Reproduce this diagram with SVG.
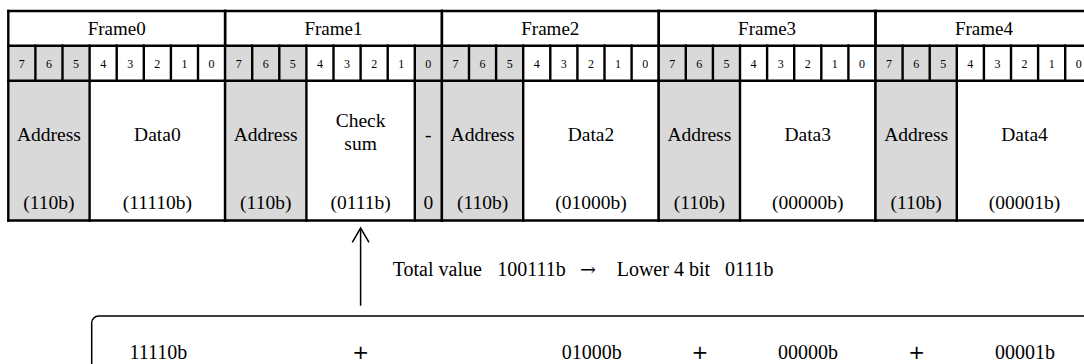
<svg xmlns="http://www.w3.org/2000/svg" width="1084" height="364" viewBox="0 0 1084 364">
<style>
  text { font-family: "Liberation Serif", "Times New Roman", serif; fill: #000; }
  .hdr { font-size: 19px; text-anchor: middle; }
  .bit { font-size: 12px; text-anchor: middle; }
  .lbl { font-size: 19.5px; text-anchor: middle; }
  .note { font-size: 20px; }
  .arr { font-family: "DejaVu Serif", serif; font-size: 19px; }
  .sum { font-size: 20px; text-anchor: middle; }
  .plus { font-family: "DejaVu Sans", sans-serif; font-size: 20px; text-anchor: middle; }
  .gray { fill: #d9d9d9; stroke: none; }
  .ln { stroke: #000; stroke-width: 2.4; fill: none; stroke-linecap: square; }
  .thin { stroke: #000; stroke-width: 1.5; fill: none; }
</style>
<defs>
  <g id="bitlines">
    <path class="ln" d="M0,11 V220.5 M27.1,45.7 V80.7 M54.2,45.7 V80.7 M81.3,45.7 V220.5 M108.4,45.7 V80.7 M135.5,45.7 V80.7 M162.6,45.7 V80.7 M189.7,45.7 V80.7 M216.8,11 V220.5"/>
  </g>
  <g id="bitnums">
    <text class="bit" x="13.55" y="68">7</text>
    <text class="bit" x="40.65" y="68">6</text>
    <text class="bit" x="67.75" y="68">5</text>
    <text class="bit" x="94.85" y="68">4</text>
    <text class="bit" x="121.95" y="68">3</text>
    <text class="bit" x="149.05" y="68">2</text>
    <text class="bit" x="176.15" y="68">1</text>
    <text class="bit" x="203.25" y="68">0</text>
  </g>
</defs>
<rect width="1084" height="364" fill="#fff"/>

<g id="frame0" transform="translate(8.3,0)">
  <rect class="gray" x="0" y="45.7" width="81.3" height="174.8"/>
  <use href="#bitlines"/>
  <text class="hdr" x="108.4" y="35">Frame0</text>
  <use href="#bitnums"/>
  <text class="lbl" x="40.65" y="141">Address</text>
  <text class="lbl" x="40.65" y="209">(110b)</text>
  <text class="lbl" x="149.05" y="141">Data0</text>
  <text class="lbl" x="149.05" y="209">(11110b)</text>
</g>

<g id="frame1" transform="translate(225.1,0)">
  <rect class="gray" x="0" y="45.7" width="81.3" height="174.8"/>
  <rect class="gray" x="189.7" y="45.7" width="27.1" height="174.8"/>
  <use href="#bitlines"/>
  <path class="ln" d="M189.7,80.7 V220.5"/>
  <text class="hdr" x="108.4" y="35">Frame1</text>
  <use href="#bitnums"/>
  <text class="lbl" x="40.65" y="141">Address</text>
  <text class="lbl" x="40.65" y="209">(110b)</text>
  <text class="lbl" x="135.5" y="127">Check</text>
  <text class="lbl" x="135.5" y="150">sum</text>
  <text class="lbl" x="135.5" y="209">(0111b)</text>
  <text class="lbl" x="203.25" y="141">-</text>
  <text class="lbl" x="203.25" y="209">0</text>
</g>

<g id="frame2" transform="translate(441.9,0)">
  <rect class="gray" x="0" y="45.7" width="81.3" height="174.8"/>
  <use href="#bitlines"/>
  <text class="hdr" x="108.4" y="35">Frame2</text>
  <use href="#bitnums"/>
  <text class="lbl" x="40.65" y="141">Address</text>
  <text class="lbl" x="40.65" y="209">(110b)</text>
  <text class="lbl" x="149.05" y="141">Data2</text>
  <text class="lbl" x="149.05" y="209">(01000b)</text>
</g>

<g id="frame3" transform="translate(658.7,0)">
  <rect class="gray" x="0" y="45.7" width="81.3" height="174.8"/>
  <use href="#bitlines"/>
  <text class="hdr" x="108.4" y="35">Frame3</text>
  <use href="#bitnums"/>
  <text class="lbl" x="40.65" y="141">Address</text>
  <text class="lbl" x="40.65" y="209">(110b)</text>
  <text class="lbl" x="149.05" y="141">Data3</text>
  <text class="lbl" x="149.05" y="209">(00000b)</text>
</g>

<g id="frame4" transform="translate(875.5,0)">
  <rect class="gray" x="0" y="45.7" width="81.3" height="174.8"/>
  <use href="#bitlines"/>
  <text class="hdr" x="108.4" y="35">Frame4</text>
  <use href="#bitnums"/>
  <text class="lbl" x="40.65" y="141">Address</text>
  <text class="lbl" x="40.65" y="209">(110b)</text>
  <text class="lbl" x="149.05" y="141">Data4</text>
  <text class="lbl" x="149.05" y="209">(00001b)</text>
</g>

<g id="table-rows">
  <path class="ln" d="M8.3,11 H1092.3 M8.3,45.7 H1092.3 M8.3,80.7 H1092.3 M8.3,220.5 H1092.3"/>
</g>

<g id="connectors">
  <path class="thin" d="M360.6,229 V305.7"/>
  <path class="thin" d="M352.3,242.3 L360.6,228 L369,242.3"/>
</g>

<g id="note">
  <text class="note" y="276"><tspan x="392.7">Total value</tspan><tspan x="497.3">100111b</tspan><tspan class="arr" x="580">→</tspan><tspan x="616.7">Lower 4 bit</tspan><tspan x="725">0111b</tspan></text>
</g>

<g id="sumbox">
  <rect class="thin" x="91.7" y="316" width="1020" height="100" rx="7" ry="7"/>
  <text class="sum" x="158.3" y="359">11110b</text>
  <text class="plus" x="360.6" y="359">+</text>
  <text class="sum" x="591.7" y="359">01000b</text>
  <text class="plus" x="700" y="359">+</text>
  <text class="sum" x="808" y="359">00000b</text>
  <text class="plus" x="916.7" y="359">+</text>
  <text class="sum" x="1025" y="359">00001b</text>
</g>
</svg>
